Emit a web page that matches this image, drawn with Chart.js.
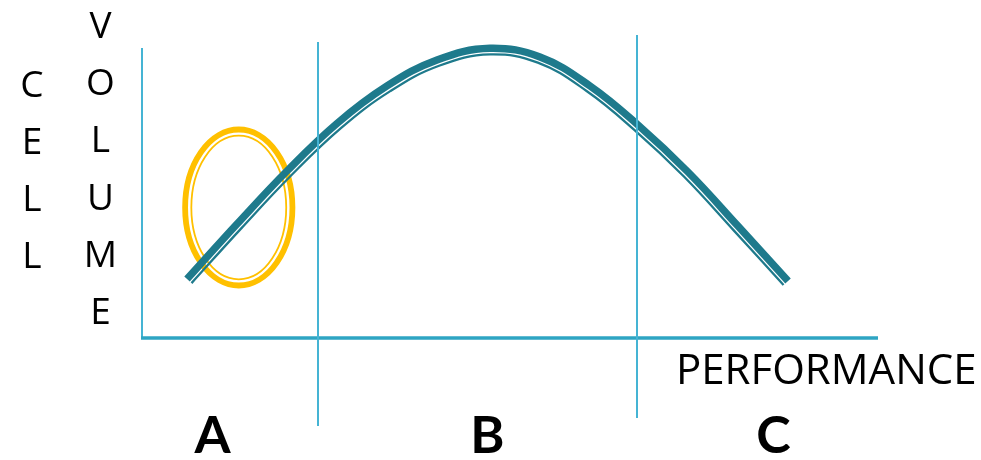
<!DOCTYPE html>
<html>
<head>
<meta charset="utf-8">
<script src="https://cdn.jsdelivr.net/npm/chart.js@4.4.1/dist/chart.umd.min.js"></script>
<style>
html, body { margin: 0; padding: 0; background: #fff; }
canvas { display: block; }
</style>
</head>
<body>
<canvas id="chart" width="981" height="460"></canvas>
<script>
// ---- data ----
const curveX = [5.99, 12.79, 19.59, 26.39, 33.20, 40.00, 47.21, 54.01, 60.82, 67.35, 74.15, 80.95, 87.76];
const curveY = [20.34, 39.31, 57.59, 73.97, 86.90, 95.86, 99.90, 96.90, 86.90, 73.45, 57.24, 38.62, 19.66];

const zoneBounds = [23.8, 67.2];          // vertical separators (x value)
const zoneLabels = ['A', 'B', 'C'];
const zoneLabelX = [9.46, 46.87, 85.78];

const yTitleWords = ['CELL', 'VOLUME'];
const xTitle = 'PERFORMANCE';

// highlighted region: centre x, centre y, radius x, radius y (data units)
const highlight = [13.03, 45.0, 7.3, 26.9];

// ---- styles ----
const TEAL = '#1e7a8c';
const YELLOW = '#ffc000';
const AXIS = '#2ea5c3';
const SEP = '#45b4d4';

const drawing = {
  id: 'drawing',
  beforeDatasetsDraw(chart) {
    const { ctx, chartArea: a, scales: { x, y } } = chart;
    ctx.save();
    // axes
    ctx.strokeStyle = SEP;
    ctx.lineWidth = 2;
    ctx.beginPath(); ctx.moveTo(a.left - 1, a.top); ctx.lineTo(a.left - 1, a.bottom); ctx.stroke();
    ctx.strokeStyle = AXIS;
    ctx.lineWidth = 3.4;
    ctx.beginPath(); ctx.moveTo(a.left - 2, a.bottom); ctx.lineTo(a.right, a.bottom); ctx.stroke();

    // yellow double ring
    const cx = x.getPixelForValue(highlight[0]);
    const cy = y.getPixelForValue(highlight[1]);
    const rx = x.getPixelForValue(highlight[0] + highlight[2]) - cx;
    const ry = cy - y.getPixelForValue(highlight[1] + highlight[3]);
    ctx.strokeStyle = YELLOW;
    ctx.lineWidth = 5.8;
    ctx.beginPath(); ctx.ellipse(cx, cy, rx, ry, 0, 0, Math.PI * 2); ctx.stroke();
    ctx.lineWidth = 1.8;
    ctx.beginPath(); ctx.ellipse(cx, cy, rx - 6.2, ry - 6.2, 0, 0, Math.PI * 2); ctx.stroke();
    ctx.restore();
  },
  afterDatasetsDraw(chart) {
    const { ctx, chartArea: a, scales: { x, y } } = chart;
    const pts = chart.getDatasetMeta(0).data;
    ctx.save();

    // thin companion line on the lower side of the curve
    const d = 6.1;
    const nrm = pts.map((p, i) => {
      const p0 = pts[Math.max(i - 1, 0)], p1 = pts[Math.min(i + 1, pts.length - 1)];
      const dx = p1.x - p0.x, dy = p1.y - p0.y, len = Math.hypot(dx, dy);
      return { x: -dy / len, y: dx / len };
    });
    ctx.strokeStyle = TEAL;
    ctx.lineWidth = 2.3;
    ctx.lineCap = 'butt';
    ctx.beginPath();
    ctx.moveTo(pts[0].x + d * nrm[0].x, pts[0].y + d * nrm[0].y);
    for (let i = 1; i < pts.length; i++) {
      const p = pts[i - 1], q = pts[i];
      ctx.bezierCurveTo(
        p.cp2x + d * nrm[i - 1].x, p.cp2y + d * nrm[i - 1].y,
        q.cp1x + d * nrm[i].x, q.cp1y + d * nrm[i].y,
        q.x + d * nrm[i].x, q.y + d * nrm[i].y);
    }
    ctx.stroke();

    // zone separators
    ctx.strokeStyle = SEP;
    ctx.lineWidth = 2;
    const sepTop = [42, 35], sepBottom = [426, 418];
    zoneBounds.forEach((v, i) => {
      const px = Math.round(x.getPixelForValue(v));
      ctx.beginPath(); ctx.moveTo(px, sepTop[i]); ctx.lineTo(px, sepBottom[i]); ctx.stroke();
    });

    // texts
    ctx.fillStyle = '#000';
    ctx.textAlign = 'center';
    ctx.textBaseline = 'alphabetic';
    ctx.font = '37px "Open Sans"';
    yTitleWords[0].split('').forEach((c, i) => ctx.fillText(c, 32, 96.5 + i * 57.2));
    yTitleWords[1].split('').forEach((c, i) => ctx.fillText(c, 100.5, 38 + i * 57.2));

    ctx.textAlign = 'left';
    ctx.font = '42px "Open Sans"';
    ctx.fillText(xTitle, 676, 384);

    ctx.textAlign = 'center';
    ctx.font = 'bold 52px Lato';
    zoneLabels.forEach((t, i) => ctx.fillText(t, x.getPixelForValue(zoneLabelX[i]), 453));
    ctx.restore();
  }
};

new Chart(document.getElementById('chart'), {
  type: 'line',
  data: {
    datasets: [{
      data: curveX.map((v, i) => ({ x: v, y: curveY[i] })),
      borderColor: TEAL,
      borderWidth: 7.4,
      borderCapStyle: 'butt',
      tension: 0.4,
      pointRadius: 0,
      fill: false,
      clip: false
    }]
  },
  options: {
    responsive: false,
    animation: false,
    events: [],
    layout: { padding: { left: 143, right: 103, top: 48, bottom: 122 } },
    plugins: { legend: { display: false }, tooltip: { enabled: false } },
    scales: {
      x: { type: 'linear', min: 0, max: 100, display: false },
      y: { type: 'linear', min: 0, max: 100, display: false }
    }
  },
  plugins: [drawing]
});
</script>
</body>
</html>
